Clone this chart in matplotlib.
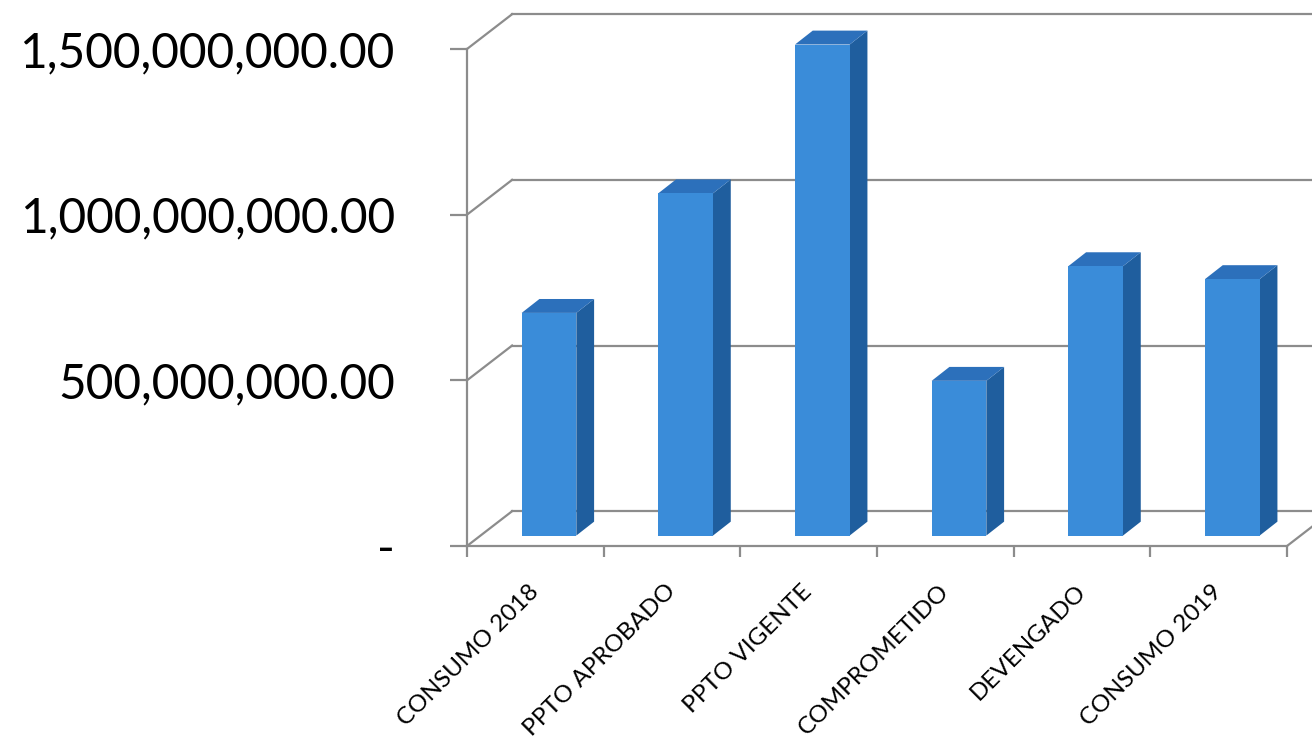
import numpy as np
import matplotlib
matplotlib.use("Agg")
import matplotlib.pyplot as plt
import matplotlib.transforms as mtransforms
from matplotlib.patches import Polygon

# --- DATA ---
categories = ["CONSUMO 2018", "PPTO APROBADO", "PPTO VIGENTE",
              "COMPROMETIDO", "DEVENGADO", "CONSUMO 2019"]
values = [672e6, 1033e6, 1482e6, 467e6, 813e6, 774e6]
y_ticks = [0, 500e6, 1000e6, 1500e6]
y_tick_labels = ["-", "500,000,000.00", "1,000,000,000.00", "1,500,000,000.00"]

# --- STYLE ---
plt.rcParams["font.family"] = ["Lato", "DejaVu Sans"]
grid_col = "#8c8c8c"
front_col = "#3a8cd9"
side_col = "#1f5e9e"
top_col = "#2c70bb"

# oblique "3D" depth (in data units)
floor_dx, floor_dy = 0.33, 105e6
bar_dx, bar_dy = 0.13, 42e6
bar_w = 0.40
off_x = (floor_dx - bar_dx) / 2
off_y = (floor_dy - bar_dy) / 2

fig = plt.figure(figsize=(13.12, 7.48), dpi=100)
ax = fig.add_axes([467 / 1312, (748 - 546) / 748, 820 / 1312, 497 / 748])
ax.set_xlim(0, len(categories))
ax.set_ylim(0, 1500e6)
n = len(categories)

# walls: back gridlines + side-wall diagonals
for v in y_ticks:
    ax.plot([0, floor_dx], [v, v + floor_dy], color=grid_col, lw=1.6,
            clip_on=False, zorder=1)
    ax.plot([floor_dx, n + 1], [v + floor_dy, v + floor_dy],
            color=grid_col, lw=1.6, clip_on=False, zorder=1)
# right floor edge
ax.plot([n, n + floor_dx], [0, floor_dy], color=grid_col, lw=1.6,
        clip_on=False, zorder=1)

# bars: front face + side + top
x_left = np.arange(n) + 0.5 - bar_w / 2 + off_x
ax.bar(x_left, values, width=bar_w, bottom=off_y, align="edge",
       color=front_col, zorder=5, clip_on=False)
for xl, v in zip(x_left, values):
    xr = xl + bar_w
    yt = off_y + v
    side = Polygon([(xr, off_y), (xr + bar_dx, off_y + bar_dy),
                    (xr + bar_dx, yt + bar_dy), (xr, yt)],
                   closed=True, facecolor=side_col, edgecolor="none",
                   zorder=4, clip_on=False)
    top = Polygon([(xl, yt), (xl + bar_dx, yt + bar_dy),
                   (xr + bar_dx, yt + bar_dy), (xr, yt)],
                  closed=True, facecolor=top_col, edgecolor="none",
                  zorder=4, clip_on=False)
    ax.add_patch(side)
    ax.add_patch(top)

# axes / ticks
for s in ["top", "right"]:
    ax.spines[s].set_visible(False)
for s in ["left", "bottom"]:
    ax.spines[s].set_color(grid_col)
    ax.spines[s].set_linewidth(1.6)
    ax.spines[s].set_zorder(2)

ax.set_yticks(y_ticks, y_tick_labels)
ax.tick_params(axis="y", length=12, width=1.6, color=grid_col, pad=40,
               labelsize=34.5, labelcolor="black")

ax.set_xticks(np.arange(n + 1))
ax.set_xticklabels([])
ax.tick_params(axis="x", which="major", length=8, width=1.6, color=grid_col)

# category labels, rotated, right end under the bar
lab_tr = mtransforms.offset_copy(ax.transData, fig=fig, x=0, y=-42, units="dots")
for i, cat in enumerate(categories):
    ax.text(i + 0.5, 0, cat, transform=lab_tr, rotation=45,
            rotation_mode="anchor", ha="right", va="center",
            fontsize=17.5, clip_on=False)

ax.set_facecolor("none")
fig.savefig("out.png", dpi=100, facecolor="white")
